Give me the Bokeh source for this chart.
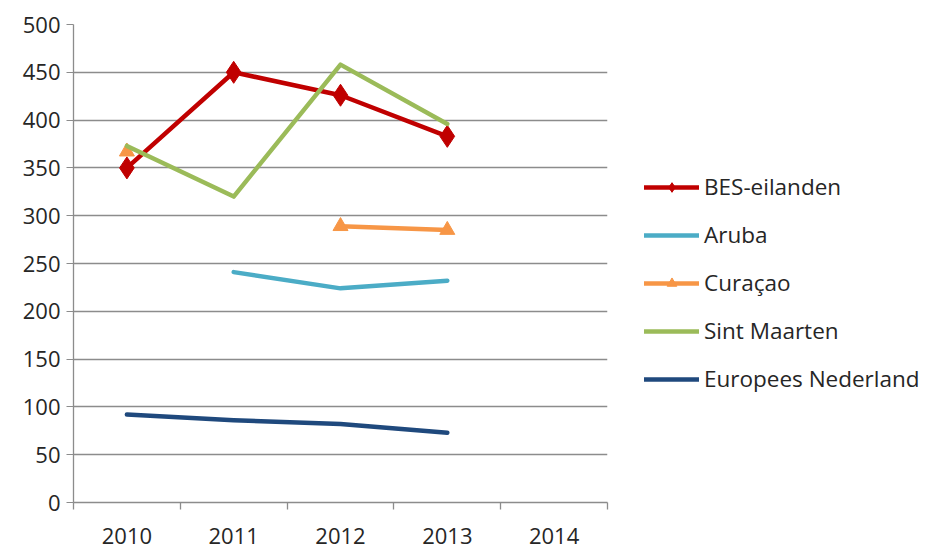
from bokeh.plotting import figure
from bokeh.models import (Range1d, FixedTicker, Legend, LegendItem, ColumnDataSource)
from bokeh.embed import file_html
from bokeh.resources import INLINE
import numpy as np

years = [2010, 2011, 2012, 2013]
year_labels = ["2010", "2011", "2012", "2013", "2014"]
all_years = [2010, 2011, 2012, 2013, 2014]
y_ticks = [0, 50, 100, 150, 200, 250, 300, 350, 400, 450, 500]

bes = [350, 450, 426, 383]
aruba = [np.nan, 241, 224, 232]
curacao = [367, np.nan, 289, 285]
sint_maarten = [373, 320, 458, 396]
europees_nl = [92, 86, 82, 73]

FONT = "Open Sans"
TXT = "#262626"
GRID = "#8c8c8c"

p = figure(frame_width=534, frame_height=478, output_backend="svg", toolbar_location=None,
           x_range=Range1d(2009.5, 2014.5), y_range=Range1d(0, 500),
           min_border_left=73, min_border_top=24, min_border_right=0,
           min_border_bottom=47)
p.outline_line_color = None
p.xgrid.grid_line_color = None
p.ygrid.grid_line_color = GRID
p.ygrid.grid_line_width = 1.3
p.ygrid.ticker = FixedTicker(ticks=y_ticks)

p.yaxis.ticker = FixedTicker(ticks=y_ticks)
p.yaxis.axis_line_color = GRID
p.yaxis.axis_line_width = 1.3
p.yaxis.major_tick_line_color = GRID
p.yaxis.major_tick_out = 7
p.yaxis.major_tick_in = 0
p.yaxis.minor_tick_line_color = None
p.yaxis.major_label_text_font = FONT
p.yaxis.major_label_text_font_size = "22px"
p.yaxis.major_label_text_color = TXT
p.yaxis.major_label_standoff = 6

p.xaxis.ticker = FixedTicker(ticks=all_years,
                             minor_ticks=[y - 0.5 for y in all_years] + [all_years[-1] + 0.5])
p.xaxis.major_label_overrides = {y: l for y, l in zip(all_years, year_labels)}
p.xaxis.axis_line_color = GRID
p.xaxis.axis_line_width = 1.3
p.xaxis.major_tick_line_color = None
p.xaxis.major_tick_out = 0
p.xaxis.major_tick_in = 0
p.xaxis.minor_tick_line_color = GRID
p.xaxis.minor_tick_line_width = 1.3
p.xaxis.minor_tick_out = 7
p.xaxis.minor_tick_in = 0
p.xaxis.major_label_text_font = FONT
p.xaxis.major_label_text_font_size = "22px"
p.xaxis.major_label_text_color = TXT
p.xaxis.major_label_standoff = 18

LW = 4.5
series = [
    ("BES-eilanden", bes, "#C00000", "diamond", 22),
    ("Aruba", aruba, "#4BACC6", None, 0),
    ("Curaçao", curacao, "#F79646", "triangle", 15),
    ("Sint Maarten", sint_maarten, "#9BBB59", None, 0),
    ("Europees Nederland", europees_nl, "#1F497D", None, 0),
]

items = []
for name, vals, color, marker, size in series:
    src = ColumnDataSource(data=dict(x=years, y=vals))
    rs = [p.line("x", "y", source=src, line_color=color, line_width=LW,
                 line_join="round", line_cap="round")]
    if marker:
        rs.append(p.scatter("x", "y", source=src, marker=marker, size=size,
                            fill_color=color, line_color=color))
    items.append(LegendItem(label=name, renderers=rs))

legend = Legend(items=items, location=(37, 108))
legend.border_line_color = None
legend.background_fill_alpha = 0
legend.label_text_font = FONT
legend.label_text_font_size = "22.5px"
legend.label_text_color = TXT
legend.glyph_width = 55
legend.glyph_height = 24
legend.label_height = 24
legend.label_standoff = 5
legend.spacing = 17
legend.padding = 0
legend.margin = 0
p.add_layout(legend, "right")

open("out.html", "w").write(file_html(p, INLINE))
